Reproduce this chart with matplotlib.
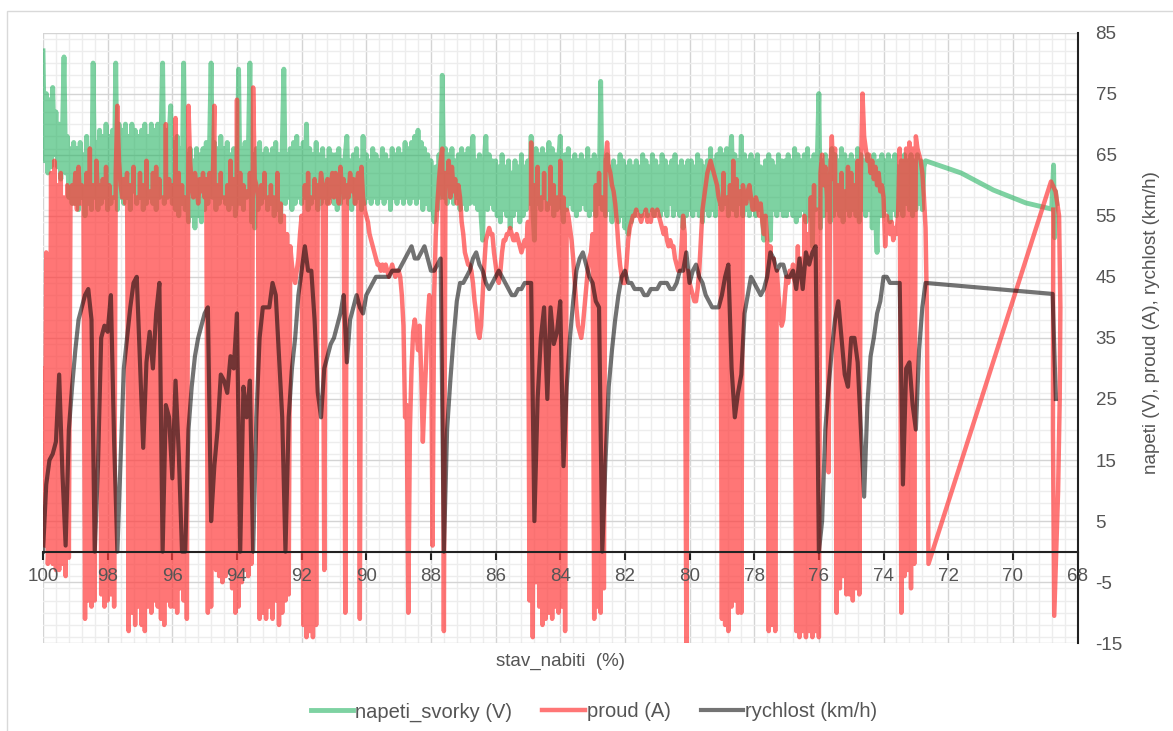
import numpy as np
import matplotlib
matplotlib.use('Agg')
import matplotlib.pyplot as plt
from matplotlib.patches import Rectangle
from matplotlib.ticker import MultipleLocator

plt.rcParams['font.family'] = ['Liberation Sans', 'DejaVu Sans']
plt.rcParams['axes.unicode_minus'] = False

# stav_nabiti (%) goes from 100 down to 72.7 in steps of 0.05 (napeti, proud)
# and 0.1 (rychlost); the last stretch down to ~68.6 is logged sparsely
step_fine = 0.05
step_coarse = 0.1

# napeti_svorky (V), one row per 1 %
napeti = [
    82, 64, 75, 62, 74, 63, 76, 65, 72, 63, 70, 61, 68, 81, 62, 68, 58, 66, 57, 67,  # 100
    57, 66, 56, 67, 58, 65, 55, 68, 57, 66, 56, 80, 58, 67, 56, 69, 57, 68, 58, 70,  # 99
    56, 68, 57, 69, 58, 80, 56, 70, 58, 69, 57, 70, 58, 68, 56, 70, 59, 69, 57, 68,  # 98
    58, 69, 56, 70, 57, 68, 58, 70, 57, 69, 56, 70, 58, 67, 80, 57, 69, 58, 68, 73,  # 97
    57, 67, 56, 68, 55, 66, 57, 80, 56, 65, 54, 66, 55, 64, 53, 66, 55, 65, 54, 66,  # 96
    56, 67, 57, 66, 80, 58, 67, 56, 66, 57, 68, 58, 66, 57, 67, 56, 65, 57, 66, 55,  # 95
    58, 79, 57, 66, 56, 67, 58, 65, 80, 54, 65, 53, 66, 56, 67, 57, 65, 58, 66, 56,  # 94
    65, 57, 66, 55, 67, 56, 65, 54, 66, 79, 57, 65, 58, 66, 56, 67, 57, 68, 58, 66,  # 93
    57, 67, 58, 70, 56, 66, 57, 65, 58, 67, 56, 65, 57, 66, 58, 64, 57, 66, 58, 65,  # 92
    57, 65, 56, 66, 57, 64, 58, 65, 68, 57, 64, 56, 65, 57, 66, 58, 64, 56, 68, 57,  # 91
    65, 58, 64, 57, 66, 58, 65, 57, 64, 58, 66, 57, 65, 58, 64, 56, 66, 58, 65, 57,  # 90
    66, 58, 65, 57, 67, 58, 66, 57, 67, 58, 68, 57, 69, 58, 67, 56, 66, 57, 65, 56,  # 89
    64, 57, 54, 63, 56, 65, 58, 78, 58, 66, 57, 65, 58, 66, 57, 64, 58, 65, 56, 66,  # 88
    57, 65, 56, 66, 57, 65, 68, 57, 64, 56, 65, 55, 51, 64, 68, 56, 65, 57, 64, 56,  # 87
    64, 55, 63, 54, 65, 56, 63, 55, 64, 53, 62, 55, 64, 56, 63, 54, 65, 55, 63, 56,  # 86
    64, 57, 68, 56, 51, 66, 57, 65, 56, 66, 58, 65, 56, 67, 57, 66, 55, 65, 56, 64,  # 85
    68, 57, 54, 65, 56, 66, 57, 64, 56, 65, 55, 64, 56, 65, 57, 64, 56, 66, 55, 64,  # 84
    56, 65, 55, 64, 57, 77, 56, 64, 55, 65, 56, 63, 54, 64, 55, 63, 54, 65, 55, 64,  # 83
    53, 63, 52, 64, 54, 63, 55, 64, 56, 63, 55, 65, 56, 64, 55, 63, 56, 65, 55, 64,  # 82
    56, 63, 55, 65, 56, 64, 55, 63, 57, 64, 55, 65, 56, 63, 55, 64, 53, 63, 55, 64,  # 81
    56, 64, 55, 63, 56, 65, 55, 64, 54, 63, 56, 64, 55, 66, 56, 64, 55, 65, 57, 66,  # 80
    56, 65, 57, 66, 55, 64, 68, 56, 65, 55, 64, 57, 68, 55, 65, 56, 64, 55, 65, 56,  # 79
    64, 55, 65, 56, 63, 55, 51, 64, 55, 65, 51, 64, 56, 63, 55, 65, 56, 64, 55, 64,  # 78
    55, 65, 56, 64, 55, 66, 54, 65, 55, 64, 56, 65, 54, 66, 55, 64, 50, 65, 56, 64,  # 77
    75, 53, 64, 55, 65, 56, 64, 54, 66, 55, 65, 56, 64, 55, 66, 54, 65, 56, 64, 55,  # 76
    65, 56, 64, 55, 66, 54, 65, 56, 64, 55, 65, 56, 64, 53, 65, 55, 49, 64, 55, 65,  # 75
    55, 64, 56, 65, 54, 64, 56, 65, 55, 63, 56, 64, 55, 65, 57, 64, 56, 65, 55, 64,  # 74
    56, 65, 57, 64, 56, 63, 64,                                                      # 73
]
napeti_tail_x = [71.6, 70.6, 69.6, 68.8, 68.74, 68.71, 68.68, 68.64]
napeti_tail = [62.0, 59.2, 57.1, 56.1, 63.3, 51.4, 59, 57]

# proud (A)
proud = [
    30, 1, 49, -2, 3, 62, -2, 64, -3, 60, -3, 62, -2, 58, -4, 60, -1, 58, 60, 57,  # 100
    62, 56, 63, 57, 60, 59, -11, 62, -8, 66, -9, 60, -8, 64, 58, 60, -7, 61, -9, 63,  # 99
    -8, 60, -7, 58, -9, 62, 73, 64, 60, 58, 61, 57, 62, -13, 60, -10, 63, -12, 58, -9,  # 98
    62, -12, 60, -13, 64, -9, 59, -10, 62, -8, 63, -9, 61, -11, 58, -12, 70, -8, 61, -9,  # 97
    60, -9, 71, -10, 62, -6, 60, -8, 58, -11, 73, 64, 60, 58, 62, 60, 57, 61, 59, 62,  # 96
    58, 61, -10, 62, -9, 60, 73, -3, 60, -4, 62, -5, 58, -4, 60, -3, 64, -6, 61, -10,  # 95
    74, -9, 62, -5, 60, -3, 59, -4, 62, -2, 76, 61, 60, 58, -11, 60, -10, 62, -11, 58,  # 94
    -9, 60, -11, 58, -8, 62, -12, 57, -10, 55, -8, 52, -7, 50, 47, 45, 44, 46, 48, 52,  # 93
    55, -12, 60, -14, 62, -13, 58, -14, 61, -12, 60, 58, 62, 60, -3, 59, 61, 57, 60, 62,  # 92
    58, 62, 60, 57, 63, 59, 61, -10, 60, 58, 62, 59, 61, 57, 60, 62, -11, 63, 58, 56,  # 91
    55, 54, 52, 51, 50, 49, 48, 47, 47, 46, 47, 46, 47, 46, 45, 46, 47, 46, 45, 46,  # 90
    46, 45, 42, 37, 22, 24, -10, 20, 30, 36, 38, 36, 33, 37, 29, 18, 25, 31, 38, 42,  # 89
    41, 1, 42, 52, 57, 61, 64, 66, -13, 62, 60, 64, 58, 63, 59, 61, 57, 60, 58, 54,  # 88
    52, 49, 48, 47, 47, 46, 44, 41, 39, 36, 35, 37, 42, 47, 51, 52, 53, 52, 52, 49,  # 87
    47, 45, 44, 46, 49, 51, 51, 52, 52, 53, 52, 51, 51, 52, 51, 50, 49, 50, 51, 50,  # 86
    54, -8, 67, -14, 60, -5, 63, -9, 58, -12, 62, -11, 57, -10, 63, -11, 60, -9, 58, -10,  # 85
    64, -9, 58, -13, 56, 55, 53, 51, 48, 44, 40, 37, 36, 35, 37, 40, 43, 46, 48, 49,  # 84
    52, -11, 60, -9, 62, -10, 58, -6, 64, 67, 63, 62, 60, 59, 57, 54, 50, 47, 45, 44,  # 83
    44, 47, 51, 53, 54, 55, 55, 56, 55, 55, 54, 55, 55, 56, 54, 55, 54, 56, 55, 55,  # 82
    56, 55, 54, 53, 52, 53, 51, 50, 51, 50, 50, 48, 47, 46, 46, 50, 55, 52, -15, 46,  # 81
    44, 43, 42, 41, 41, 43, 46, 51, 56, 58, 60, 62, 63, 64, 63, 62, 61, 60, 58, 57,  # 80
    -11, 62, -12, 58, -13, 60, -9, 64, -8, 61, -10, 59, -10, 60, 58, 57, 59, 60, 58, 56,  # 79
    56, 58, 57, 55, 57, 54, 52, 55, 51, -13, 50, -12, 48, -13, 46, 42, 39, 37, 38, 42,  # 78
    45, 44, 46, 45, 47, 44, -13, 50, -14, 48, -13, 55, -14, 52, -13, 58, -14, 60, -13, 56,  # 77
    -14, 62, 65, 60, 63, 58, 13, 62, 68, 61, 66, -10, 60, -6, 62, -4, 59, -7, 63, -7,  # 76
    62, -8, 60, -6, 64, -7, 62, 75, 68, 66, 64, 65, 62, 64, 61, 63, 60, 62, 59, 60,  # 75
    58, 50, 55, 53, 52, 54, 51, 53, 52, 55, 66, -10, 64, -4, 66, -3, 67, -6, 66, -2,  # 74
    68, 66, 65, 64, 62, 58, 53,                                                        # 73
]
proud_tail_x = [72.66, 72.61, 68.82, 68.68, 68.57, 68.53, 68.55, 68.6, 68.66, 68.72, 68.76, 68.75]
proud_tail = [40, -2, 60.6, 59, 55, 40, 25, 10, 0, -10.5, 20, 56]

# rychlost (km/h), one row per 1 %
rychlost = [
    0, 11, 15, 16, 18, 29, 13, 1, 20, 27,  # 100
    33, 38, 40, 42, 43, 38, 0, 14, 35, 37,  # 99
    36, 42, 18, 0, 15, 30, 35, 40, 44, 45,  # 98
    31, 17, 31, 36, 30, 39, 44, 0, 24, 22,  # 97
    12, 28, 16, 0, 0, 20, 27, 32, 35, 37,  # 96
    39, 40, 5, 14, 20, 29, 28, 26, 32, 30,  # 95
    39, 0, 27, 22, 28, 0, 22, 35, 40, 40,  # 94
    40, 44, 42, 32, 22, 0, 22, 30, 35, 42,  # 93
    46, 50, 46, 46, 38, 26, 22, 30, 32, 34,  # 92
    35, 37, 39, 42, 31, 38, 40, 42, 40, 39,  # 91
    42, 43, 44, 45, 45, 45, 45, 45, 46, 46,  # 90
    46, 47, 48, 49, 50, 48, 48, 49, 50, 48,  # 89
    46, 46, 47, 48, 0, 20, 28, 35, 41, 44,  # 88
    44, 45, 46, 48, 49, 47, 46, 44, 43, 44,  # 87
    45, 46, 45, 44, 43, 42, 42, 43, 43, 44,  # 86
    44, 44, 5, 25, 35, 40, 25, 40, 34, 36,  # 85
    41, 14, 27, 35, 41, 46, 48, 49, 47, 45,  # 84
    44, 41, 40, 0, 15, 27, 33, 38, 42, 45,  # 83
    46, 44, 44, 43, 43, 43, 42, 42, 43, 43,  # 82
    43, 44, 44, 44, 43, 43, 44, 46, 46, 49,  # 81
    44, 46, 47, 45, 44, 42, 41, 40, 40, 40,  # 80
    42, 45, 47, 30, 22, 26, 29, 39, 42, 45,  # 79
    44, 43, 42, 43, 45, 49, 48, 46, 47, 47,  # 78
    45, 45, 46, 43, 48, 43, 49, 47, 49, 50,  # 77
    0, 5, 20, 27, 33, 38, 41, 35, 29, 27,  # 76
    35, 35, 31, 20, 9, 24, 32, 35, 39, 41,  # 75
    45, 45, 44, 44, 44, 44, 11, 30, 31, 24,  # 74
    20, 33, 40, 44,                         # 73
]
rychlost_tail_x = [68.77, 68.67]
rychlost_tail = [42.2, 25]

x_ticks = list(range(100, 67, -2))
y_ticks = list(range(-15, 86, 10))


def series_x(values, step, tail_x):
    base = np.round(100.0 - step * np.arange(len(values)), 2)
    return np.concatenate([base, tail_x])


def main():
    fig = plt.figure(figsize=(11.73, 7.31), dpi=100)
    fig.patches.append(Rectangle((7 / 1173, -0.1), 1.2, 1.1 - 10.5 / 731,
                                 transform=fig.transFigure, fill=False,
                                 edgecolor='#d9d9d9', lw=1))
    ax = fig.add_axes([43 / 1173, 87.7 / 731, 1034.5 / 1173, 610.8 / 731])

    ax.plot(series_x(napeti, step_fine, napeti_tail_x), napeti + napeti_tail,
            color='#28b464', alpha=0.6, lw=3.5, label='napeti_svorky (V)', zorder=3)
    ax.plot(series_x(proud, step_fine, proud_tail_x), proud + proud_tail,
            color='#ff3c3c', alpha=0.7, lw=3.2, label='proud (A)', zorder=4)
    ax.plot(series_x(rychlost, step_coarse, rychlost_tail_x), rychlost + rychlost_tail,
            color='black', alpha=0.55, lw=3, label='rychlost (km/h)', zorder=5)

    ax.set_xlim(100, 68)
    ax.set_ylim(-15, 85)
    ax.set_xticks(x_ticks)
    ax.set_xticklabels([])
    ax.xaxis.set_minor_locator(MultipleLocator(0.4))
    ax.set_yticks(y_ticks)
    ax.set_yticklabels([str(t) for t in y_ticks])
    ax.yaxis.set_minor_locator(MultipleLocator(2))
    ax.yaxis.tick_right()

    # x tick labels sit on top of the data, like in the spreadsheet chart
    for t in x_ticks:
        ax.annotate(str(t), xy=(t, 0), xytext=(0, -18), textcoords='offset points',
                    ha='center', va='center', fontsize=13.5, color='#555555',
                    zorder=10, annotation_clip=False)

    ax.grid(which='major', color='#d4d4d4', lw=1)
    ax.grid(which='minor', color='#ededed', lw=1)
    ax.set_axisbelow(True)

    for side in ('top', 'left'):
        ax.spines[side].set_visible(False)
    ax.spines['bottom'].set_position(('data', 0))
    ax.spines['bottom'].set_color('#222222')
    ax.spines['bottom'].set_linewidth(1.5)
    ax.spines['bottom'].set_zorder(6)
    ax.spines['right'].set_color('#222222')
    ax.spines['right'].set_linewidth(1.5)

    ax.tick_params(axis='x', which='major', direction='out', length=6, width=1.5,
                   color='#222222')
    ax.tick_params(axis='x', which='minor', length=0)
    ax.tick_params(axis='y', which='both', length=0, pad=13, labelsize=13.5,
                   labelcolor='#555555')

    fig.text(560 / 1173, 1 - 661 / 731, 'stav_nabiti  (%)', ha='center', va='center',
             fontsize=13.5, color='#555555')
    fig.text(1152 / 1173, 1 - 323 / 731, 'napeti (V), proud (A), rychlost (km/h)',
             rotation=90, ha='center', va='center', fontsize=13.5, color='#555555')

    handles, labels = ax.get_legend_handles_labels()
    leg = fig.legend(handles, labels, loc='center', bbox_to_anchor=(594 / 1173, 1 - 712 / 731),
                     ncol=3, frameon=False, fontsize=14.5, handlelength=2.1,
                     handletextpad=0.1, columnspacing=1.5)
    for t in leg.get_texts():
        t.set_color('#555555')

    plt.savefig('out.png', dpi=100)


if __name__ == '__main__':
    main()
